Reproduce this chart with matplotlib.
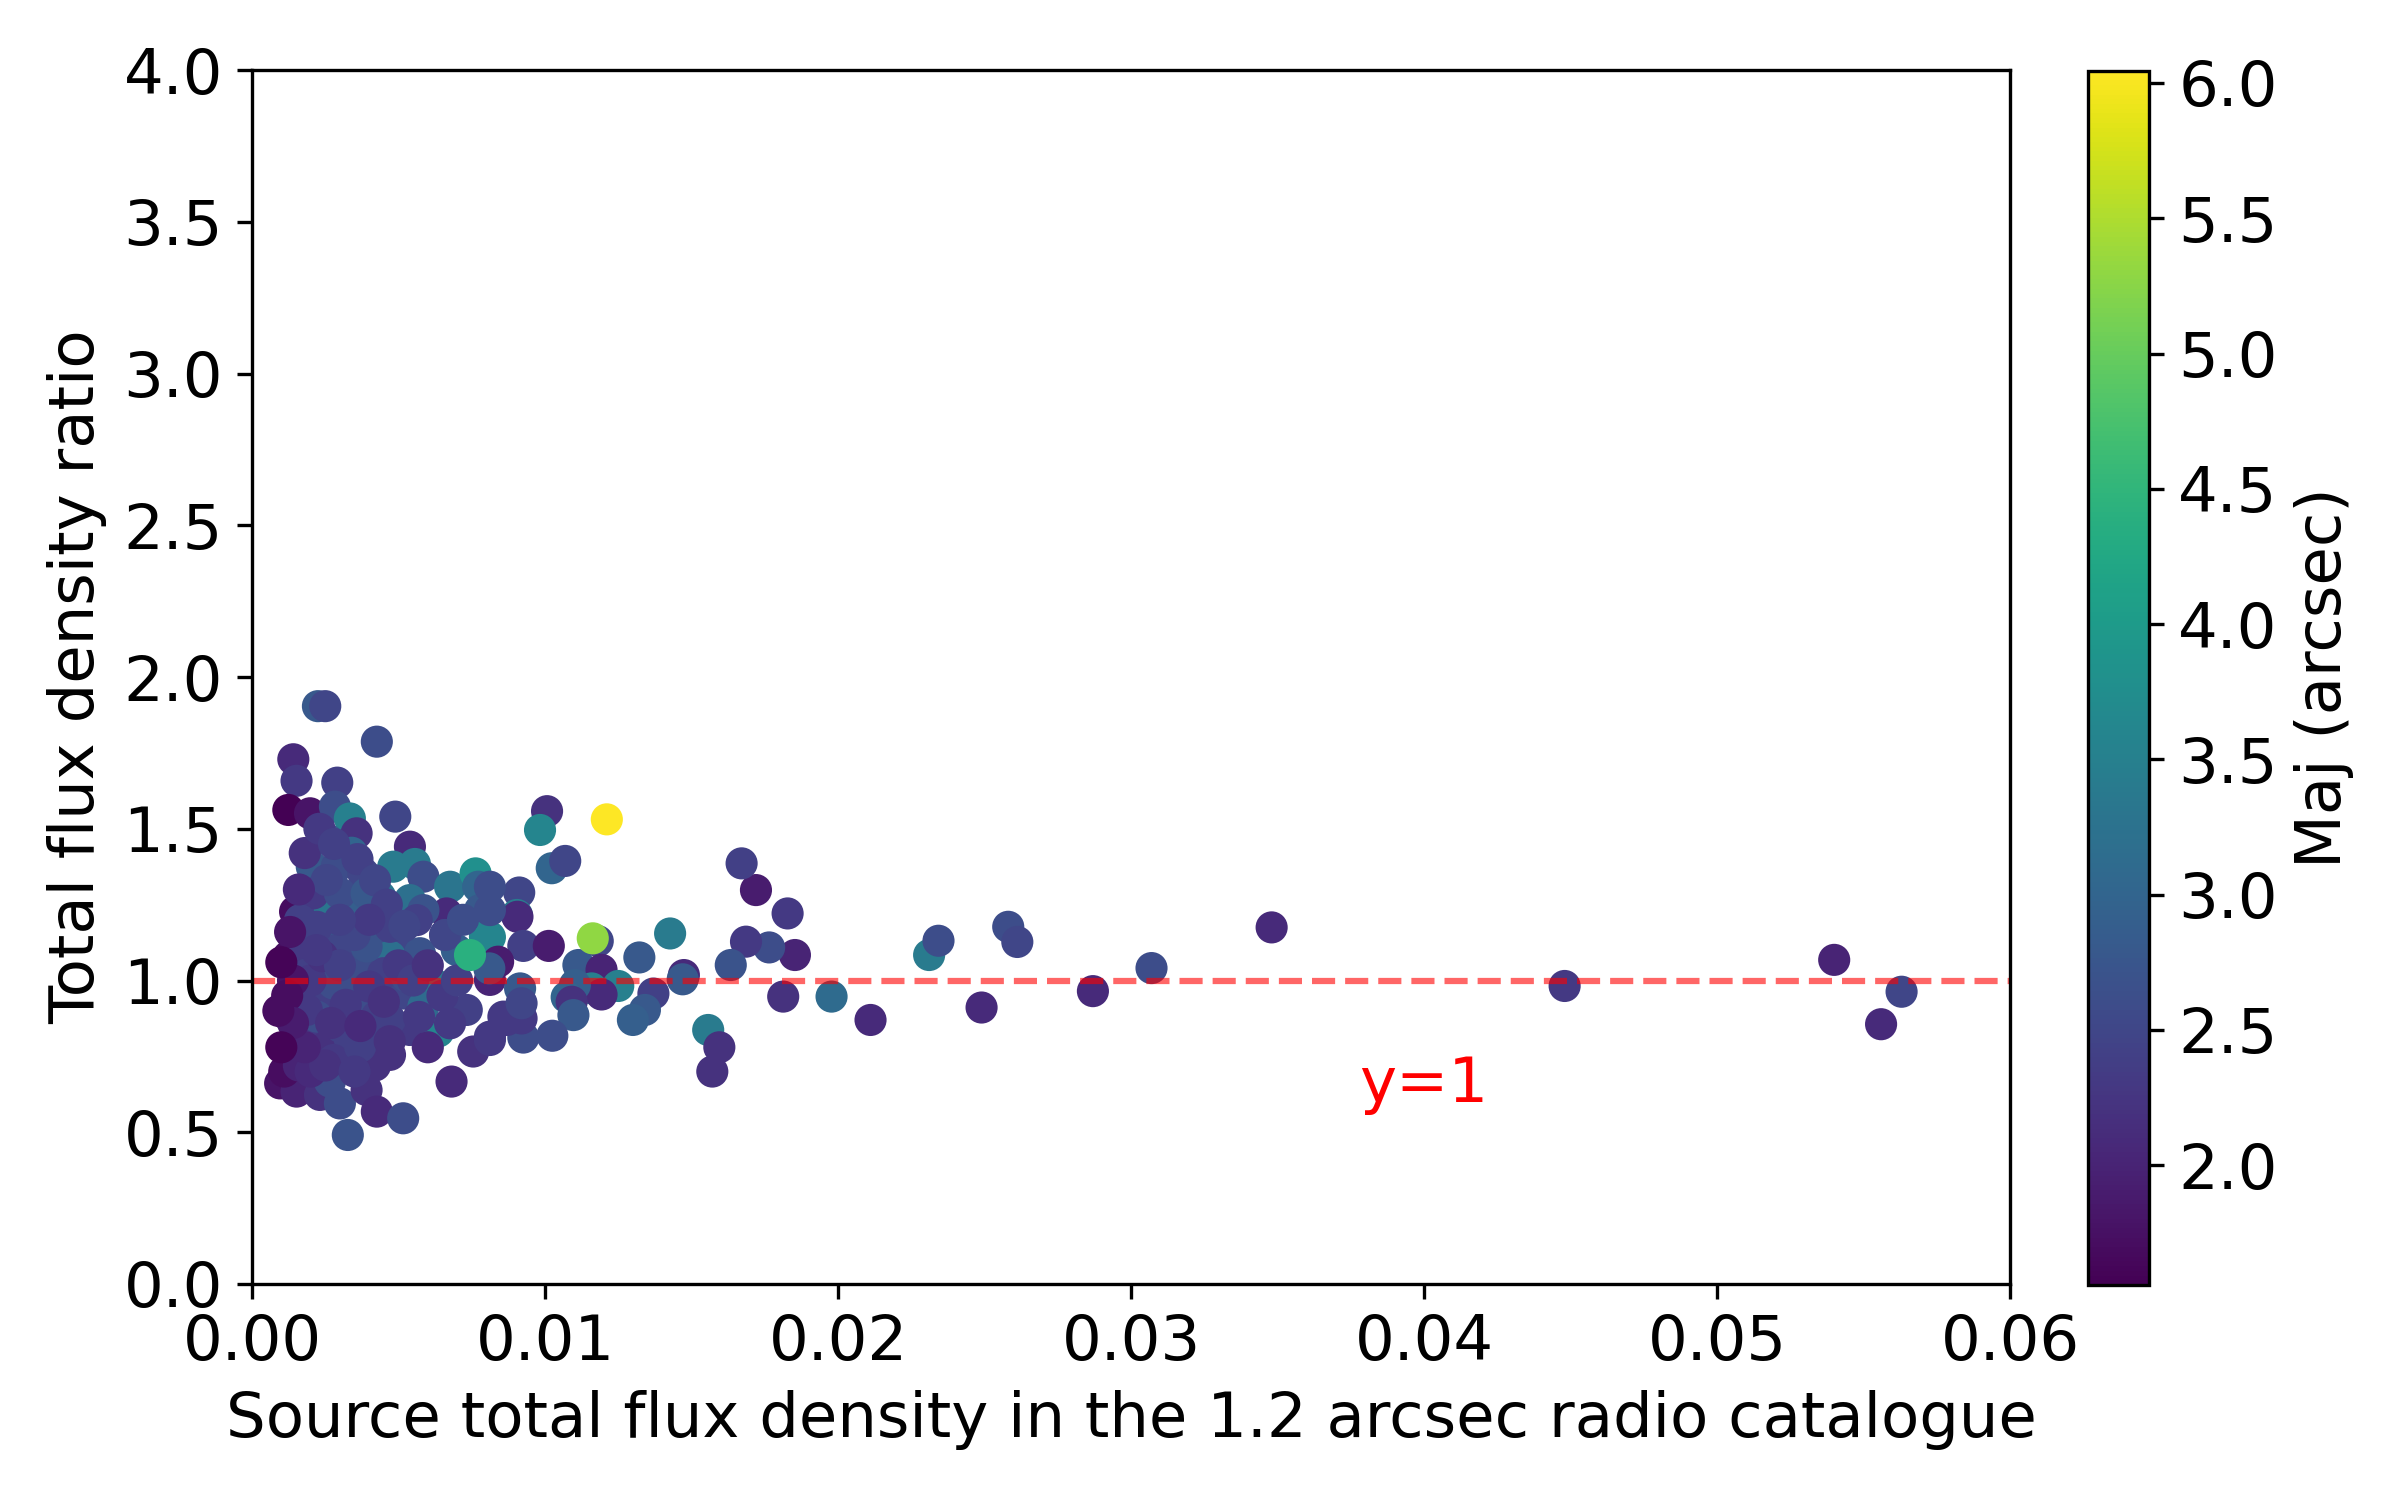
import matplotlib
matplotlib.use("Agg")
import matplotlib.pyplot as plt

plt.rcParams["font.size"] = 15

# (flux, ratio, maj), grouped by region
# isolated points to the right
flux_right = [0.0563, 0.0556, 0.0540, 0.0448, 0.0348, 0.0307, 0.0287, 0.02490,
              0.02581, 0.02612, 0.02311, 0.02343, 0.02111, 0.01978, 0.01813,
              0.01853, 0.01765, 0.01686, 0.01828, 0.0172, 0.01671, 0.01634]
ratio_right = [0.963, 0.856, 1.068, 0.982, 1.175, 1.041, 0.965, 0.911,
               1.177, 1.127, 1.084, 1.131, 0.870, 0.947, 0.947,
               1.084, 1.109, 1.128, 1.221, 1.298, 1.386, 1.051]
maj_right = [2.5, 2.1, 2.0, 2.3, 2.1, 2.6, 2.1, 2.1,
             2.6, 2.5, 3.4, 2.6, 2.1, 3.1, 2.2,
             2.0, 2.6, 2.3, 2.3, 1.9, 2.4, 2.7]

# middle band, 0.008 - 0.016
flux_mid = [0.01007, 0.00983, 0.01023, 0.01069, 0.00912, 0.00904, 0.00906, 0.00812,
            0.00926, 0.01013, 0.0118, 0.01427, 0.01322, 0.01474, 0.0147, 0.01114,
            0.01193, 0.0125, 0.01159, 0.01193, 0.01102, 0.01074, 0.01091, 0.01097,
            0.0137, 0.01341, 0.0130, 0.01557, 0.01595, 0.01571, 0.01025, 0.00926,
            0.0092, 0.0087, 0.00812, 0.0084, 0.0081, 0.00915, 0.0092, 0.00812, 0.00812]
ratio_mid = [1.558, 1.496, 1.370, 1.394, 1.290, 1.216, 1.210, 1.143,
             1.114, 1.114, 1.130, 1.155, 1.076, 1.018, 1.004, 1.051,
             1.035, 0.982, 0.974, 0.954, 0.985, 0.945, 0.930, 0.886,
             0.957, 0.903, 0.870, 0.837, 0.780, 0.700, 0.818, 0.812,
             0.875, 0.870, 0.815, 1.062, 1.040, 0.974, 0.925, 1.309, 1.232]
maj_mid = [2.2, 3.6, 3.0, 2.5, 2.5, 3.4, 2.1, 3.6,
           2.4, 1.9, 2.5, 3.4, 2.8, 2.1, 2.8, 2.8,
           2.0, 3.5, 3.5, 2.1, 2.9, 3.0, 2.2, 2.8,
           2.4, 2.8, 2.9, 3.4, 2.2, 2.2, 2.6, 2.6,
           2.3, 2.3, 2.3, 1.9, 2.8, 2.8, 2.5, 2.6, 2.6]

# dense cluster at low flux
flux_low = [0.00225, 0.0025, 0.00426, 0.00141, 0.00152, 0.00291, 0.00124, 0.00198,
            0.00489, 0.00283, 0.00334, 0.00357, 0.00255, 0.0034, 0.00539, 0.00482,
            0.00556, 0.00585, 0.00204, 0.00289, 0.0038, 0.00676, 0.00763, 0.00772,
            0.00437, 0.00539, 0.00147, 0.00209, 0.00266, 0.00334, 0.00778, 0.00664,
            0.00585, 0.00141, 0.00198, 0.00295, 0.00426, 0.00499, 0.00659, 0.00795,
            0.00124, 0.00255, 0.00369, 0.00471, 0.00573, 0.00812, 0.00699,
            0.00619, 0.00812, 0.00113, 0.00164, 0.00243, 0.00369, 0.00516, 0.00585,
            0.00733, 0.00118, 0.00198, 0.00255, 0.00334, 0.00426, 0.00539, 0.00636,
            0.00676, 0.00755, 0.00812, 0.00858, 0.00471, 0.00096, 0.00152, 0.00232,
            0.00266, 0.00300, 0.00391, 0.00426, 0.00516, 0.00327, 0.00681, 0.0042,
            0.00278, 0.00369, 0.0030, 0.00221, 0.00187, 0.00426, 0.00471, 0.00334,
            0.00448, 0.00528, 0.00289, 0.00391, 0.00471, 0.00562, 0.00209, 0.0030,
            0.00391, 0.00255, 0.00175, 0.00164, 0.00221, 0.00278, 0.00187,
            0.0020, 0.0024, 0.0030, 0.0035, 0.0040, 0.0045, 0.0032, 0.0027,
            0.0037, 0.0050, 0.0055, 0.0060, 0.0065, 0.0070, 0.0016, 0.0018,
            0.0023, 0.0028, 0.0036, 0.0042, 0.0046, 0.0052, 0.0040, 0.0030,
            0.0022, 0.0014, 0.0012, 0.0013, 0.0011, 0.0016, 0.0020, 0.0025,
            0.0018, 0.0014, 0.0035, 0.0047, 0.0060, 0.0057, 0.0066, 0.0072,
            0.0010, 0.0009, 0.0010]
ratio_low = [1.904, 1.904, 1.787, 1.729, 1.658, 1.652, 1.562, 1.551,
             1.540, 1.573, 1.534, 1.485, 1.466, 1.421, 1.441, 1.375,
             1.384, 1.342, 1.375, 1.375, 1.353, 1.309, 1.353, 1.309,
             1.277, 1.265, 1.227, 1.232, 1.238, 1.260, 1.232, 1.221,
             1.232, 1.145, 1.133, 1.177, 1.166, 1.145, 1.150, 1.145,
             1.079, 1.056, 1.068, 1.079, 1.090, 1.068, 1.100,
             0.990, 1.002, 0.892, 0.957, 0.936, 0.947, 0.957, 0.914,
             0.903, 0.782, 0.815, 0.782, 0.804, 0.826, 0.837, 0.832,
             0.859, 0.766, 0.804, 0.881, 0.755, 0.661, 0.634, 0.623,
             0.667, 0.595, 0.639, 0.568, 0.546, 0.491, 0.667, 0.720,
             0.738, 0.782, 0.848, 0.881, 0.903, 0.881, 0.870, 1.002,
             1.024, 1.013, 1.100, 1.112, 1.177, 1.199, 1.287, 1.287,
             1.287, 1.331, 1.090, 1.199, 1.177, 0.990, 1.020,
             1.00, 1.08, 1.05, 1.15, 0.98, 0.93, 0.92, 0.86,
             0.85, 1.05, 1.00, 1.05, 0.95, 1.00, 1.30, 1.42,
             1.50, 1.45, 1.40, 1.33, 1.25, 1.18, 1.20, 1.20,
             1.10, 1.00, 0.95, 1.16, 0.70, 0.72, 0.70, 0.72,
             0.78, 0.86, 0.70, 0.80, 0.78, 0.88, 1.15, 1.20,
             1.06, 0.90, 0.78]
maj_low = [2.8, 2.5, 2.6, 2.1, 2.3, 2.4, 1.557, 1.8,
           2.5, 2.6, 3.5, 2.2, 2.8, 3.0, 2.1, 3.4,
           3.4, 2.6, 2.8, 2.6, 2.5, 3.3, 3.8, 3.0,
           3.3, 3.2, 1.7, 2.5, 3.3, 2.9, 2.8, 2.1,
           2.7, 1.9, 2.4, 2.7, 2.6, 2.5, 2.4, 3.6,
           1.7, 3.0, 2.6, 3.2, 2.7, 2.5, 2.9,
           3.4, 2.0, 1.7, 2.3, 2.4, 2.6, 2.5, 3.1,
           2.4, 1.6, 2.3, 2.2, 2.4, 2.4, 2.3, 3.6,
           2.3, 2.2, 2.3, 2.3, 2.2, 1.8, 2.0, 2.2,
           2.6, 2.6, 2.2, 2.1, 2.6, 2.7, 2.1, 2.2,
           2.3, 2.4, 2.4, 2.6, 2.3, 2.4, 2.4, 2.6,
           2.4, 2.6, 2.5, 2.7, 2.4, 2.4, 2.3, 2.6,
           2.8, 2.5, 2.3, 2.4, 2.4, 2.6, 2.4,
           2.3, 2.2, 2.4, 2.5, 2.3, 2.2, 2.3, 2.2,
           2.1, 2.3, 2.4, 2.2, 2.3, 2.4, 2.1, 2.2,
           2.3, 2.4, 2.4, 2.5, 2.4, 2.5, 2.3, 2.4,
           2.3, 1.8, 1.7, 1.8, 1.7, 2.0, 2.1, 2.2,
           2.0, 1.9, 2.3, 2.2, 2.1, 2.3, 2.5, 2.6,
           1.6, 1.7, 1.6]

# the few bright (large) sources, drawn last
flux_bright = [0.00744, 0.01163, 0.01211]
ratio_bright = [1.084, 1.139, 1.531]
maj_bright = [4.4, 5.3, 6.045]

flux = flux_low + flux_mid + flux_right + flux_bright
ratio = ratio_low + ratio_mid + ratio_right + ratio_bright
maj = maj_low + maj_mid + maj_right + maj_bright

fig = plt.figure(figsize=(8, 5), dpi=300)
ax = fig.add_axes([0.105, 0.144, 0.7325, 0.8093])
cax = fig.add_axes([0.87, 0.1433, 0.0254, 0.8095])

sc = ax.scatter(flux, ratio, c=maj, cmap="viridis", s=45)
ax.axhline(1.0, color="red", linestyle="--", alpha=0.6)
ax.text(0.0378, 0.6, "y=1", color="red")

ax.set_xlim(0, 0.06)
ax.set_ylim(0, 4)
ax.set_xlabel("Source total flux density in the 1.2 arcsec radio catalogue")
ax.set_ylabel("Total flux density ratio")

cb = fig.colorbar(sc, cax=cax)
cb.set_label("Maj (arcsec)")

fig.savefig("out.png", dpi=300)
